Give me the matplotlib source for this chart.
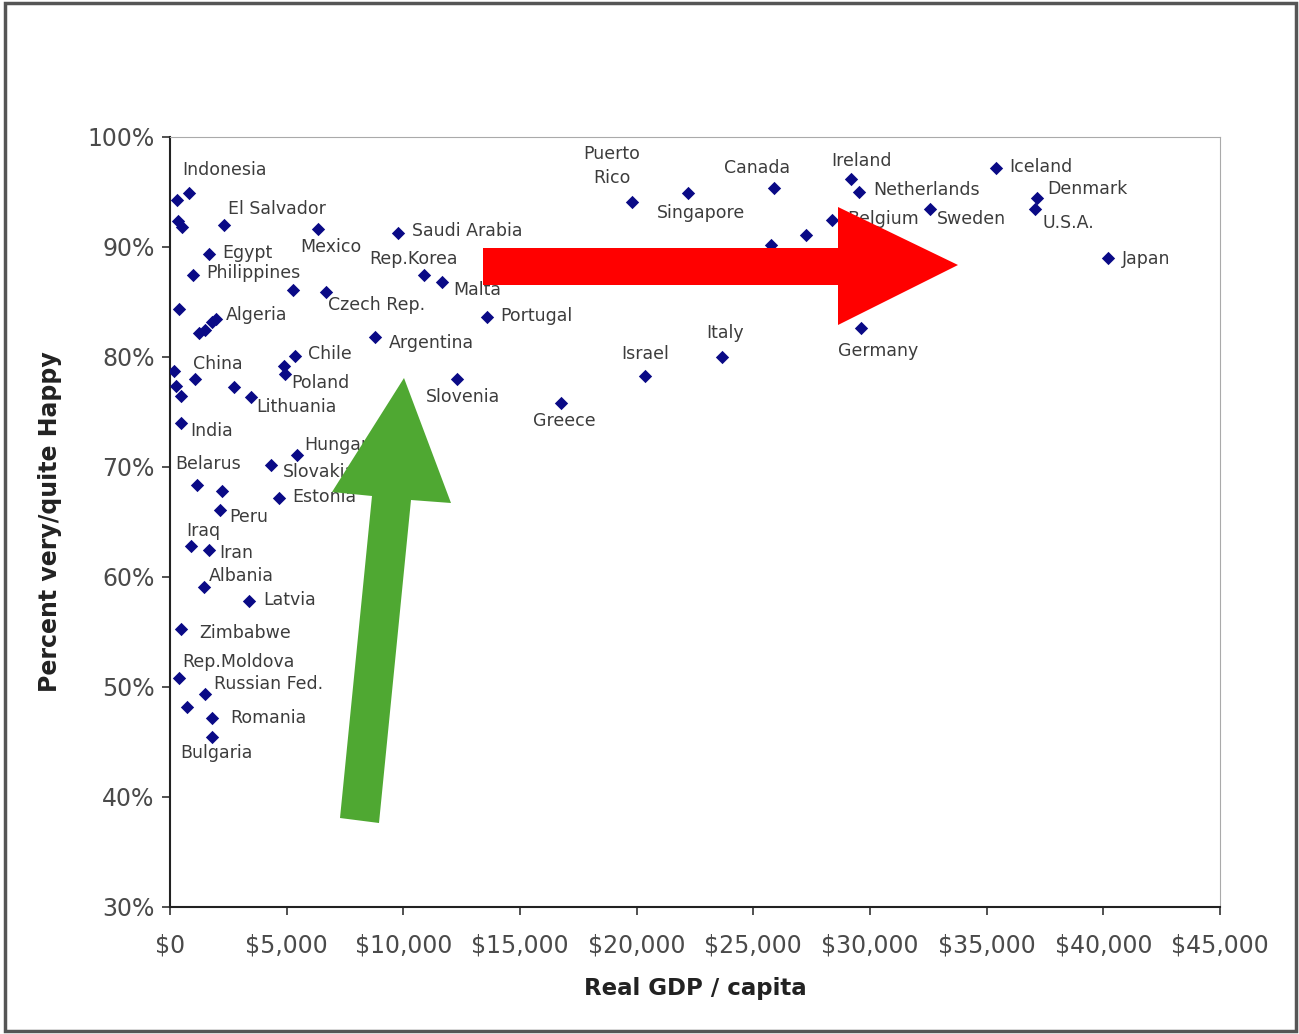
import numpy as np
import matplotlib
matplotlib.use("Agg")
import matplotlib.pyplot as plt
from matplotlib.patches import Polygon, Rectangle
from matplotlib.ticker import FuncFormatter

# GDP per capita (US$) and share very/quite happy (%)
countries = ["Indonesia", "", "", "", "El Salvador", "Mexico", "Saudi Arabia",
             "Egypt", "Philippines", "", "Czech Rep.", "Rep.Korea", "Malta",
             "Portugal", "", "", "", "", "Algeria", "Argentina", "Chile", "",
             "Poland", "", "", "", "China", "", "Lithuania", "India",
             "Slovenia", "Greece", "Israel", "Italy", "Puerto\nRico",
             "Singapore", "Canada", "France", "", "Belgium", "Ireland",
             "Netherlands", "Sweden", "Iceland", "Denmark", "U.S.A.", "Japan",
             "Germany", "Hungary", "Slovakia", "Estonia", "Belarus", "",
             "Peru", "Iraq", "Iran", "Albania", "Latvia", "Zimbabwe",
             "Rep.Moldova", "Russian Fed.", "", "Romania", "Bulgaria"]
gdp = [814, 300, 343, 514, 2314, 6343, 9771,
       1671, 986, 5271, 6686, 10886, 11657,
       13586, 386, 1243, 1500, 1800, 1971, 8786, 5357, 4886,
       4929, 171, 257, 471, 1071, 2743, 3471, 471,
       12300, 16757, 20357, 23657, 19800,
       22200, 25886, 25757, 27257, 28371, 29186,
       29529, 32571, 35400, 37157, 37071, 40200,
       29614, 5443, 4329, 4671, 1157, 2229,
       2143, 900, 1671, 1457, 3386, 471,
       386, 1500, 729, 1800, 1800]
happy = [94.9, 94.3, 92.4, 91.8, 92.0, 91.6, 91.3,
         89.4, 87.5, 86.1, 85.9, 87.5, 86.8,
         83.6, 84.4, 82.2, 82.5, 83.2, 83.5, 81.8, 80.1, 79.2,
         78.5, 78.7, 77.4, 76.5, 78.0, 77.3, 76.4, 74.0,
         78.0, 75.8, 78.3, 80.0, 94.1,
         94.9, 95.4, 90.2, 91.1, 92.5, 96.2,
         95.0, 93.5, 97.2, 94.5, 93.5, 89.0,
         82.6, 71.1, 70.2, 67.2, 68.4, 67.8,
         66.1, 62.8, 62.5, 59.1, 57.8, 55.3,
         50.8, 49.4, 48.2, 47.2, 45.5]

# label offsets in pixels (dx, dy, horizontal alignment)
offsets = {
    "Indonesia": (-7, 23, "left"), "El Salvador": (4, 16, "left"),
    "Mexico": (-18, -18, "left"), "Saudi Arabia": (14, 2, "left"),
    "Rep.Korea": (-55, 16, "left"), "Malta": (11, -8, "left"),
    "Czech Rep.": (2, -13, "left"), "Portugal": (13, 1, "left"),
    "Egypt": (13, 1, "left"), "Philippines": (13, 2, "left"),
    "Algeria": (10, 4, "left"), "Argentina": (14, -6, "left"),
    "Chile": (13, 2, "left"), "Poland": (6, -10, "left"),
    "China": (-2, 15, "left"), "Lithuania": (5, -10, "left"),
    "India": (9, -8, "left"), "Slovenia": (-31, -18, "left"),
    "Greece": (-28, -18, "left"), "Israel": (-24, 22, "left"),
    "Italy": (-16, 24, "left"), "Puerto\nRico": (-20, 36, "center"),
    "Singapore": (-31, -20, "left"), "Canada": (-50, 20, "left"),
    "Ireland": (-20, 18, "left"), "Netherlands": (14, 2, "left"),
    "Belgium": (15, 1, "left"), "Sweden": (7, -11, "left"),
    "Iceland": (13, 1, "left"), "Denmark": (10, 9, "left"),
    "U.S.A.": (8, -15, "left"), "Japan": (14, -1, "left"),
    "Germany": (-23, -23, "left"), "France": (14, -20, "left"),
    "Hungary": (7, 10, "left"), "Slovakia": (12, -7, "left"),
    "Estonia": (13, 1, "left"), "Belarus": (-22, 21, "left"),
    "Peru": (9, -7, "left"), "Iraq": (-5, 15, "left"),
    "Iran": (10, -3, "left"), "Albania": (5, 11, "left"),
    "Latvia": (14, 1, "left"), "Zimbabwe": (18, -4, "left"),
    "Rep.Moldova": (3, 16, "left"), "Russian Fed.": (9, 10, "left"),
    "Romania": (18, 0, "left"), "Bulgaria": (-32, -17, "left"),
}

W, H = 1299, 1034
fig = plt.figure(figsize=(W / 100, H / 100), dpi=100)
ax = fig.add_axes([170 / W, 1 - 907 / H, 1050 / W, 770 / H])

ax.scatter(gdp, happy, marker="D", s=46, color="#0a0a86", zorder=3, linewidths=0)
for name, x, y in zip(countries, gdp, happy):
    if not name:
        continue
    dx, dy, ha = offsets[name]
    ax.annotate(name, (x, y), xytext=(dx, dy), textcoords="offset pixels",
                ha=ha, va="center", fontsize=12.5, color="#3c3c3c",
                linespacing=1.4, zorder=2)

ax.set_xlim(0, 45000)
ax.set_ylim(30, 100)
ax.set_xticks(np.arange(0, 45001, 5000))
ax.set_yticks(np.arange(30, 101, 10))
ax.xaxis.set_major_formatter(FuncFormatter(lambda v, p: "${:,.0f}".format(v)))
ax.yaxis.set_major_formatter(FuncFormatter(lambda v, p: "{:.0f}%".format(v)))
ax.tick_params(axis="both", direction="out", length=6, width=1.2,
               labelsize=17, labelcolor="#4a4a4a", color="#333333")
ax.tick_params(axis="x", pad=13)
ax.tick_params(axis="y", pad=5)
ax.spines["left"].set_color("#222222")
ax.spines["bottom"].set_color("#222222")
ax.spines["left"].set_linewidth(1.5)
ax.spines["bottom"].set_linewidth(1.5)
ax.spines["top"].set_color("#aaaaaa")
ax.spines["right"].set_color("#aaaaaa")
ax.set_xlabel("Real GDP / capita", fontsize=16.5, fontweight="bold",
              color="#222222", labelpad=14)
ax.set_ylabel("Percent very/quite Happy", fontsize=17, fontweight="bold",
              color="#222222", labelpad=18)


def px_poly(pts, color):
    verts = [(x / W, 1 - y / H) for x, y in pts]
    fig.patches.append(Polygon(verts, closed=True, transform=fig.transFigure,
                               facecolor=color, edgecolor="none", zorder=5))


# red arrow (income rises) and green arrow (happiness rises)
px_poly([(483, 248), (838, 248), (838, 207), (958, 265), (838, 325),
         (838, 285), (483, 285)], "#ff0000")
px_poly([(340, 818), (372, 496), (332, 492), (404, 378), (451, 503),
         (411, 500), (379, 823)], "#4fa832")

fig.patches.append(Rectangle((5 / W, 1 - 1031 / H), 1291 / W, 1028 / H,
                             transform=fig.transFigure, fill=False,
                             edgecolor="#555555", linewidth=2.5))

fig.savefig("out.png", dpi=100)
